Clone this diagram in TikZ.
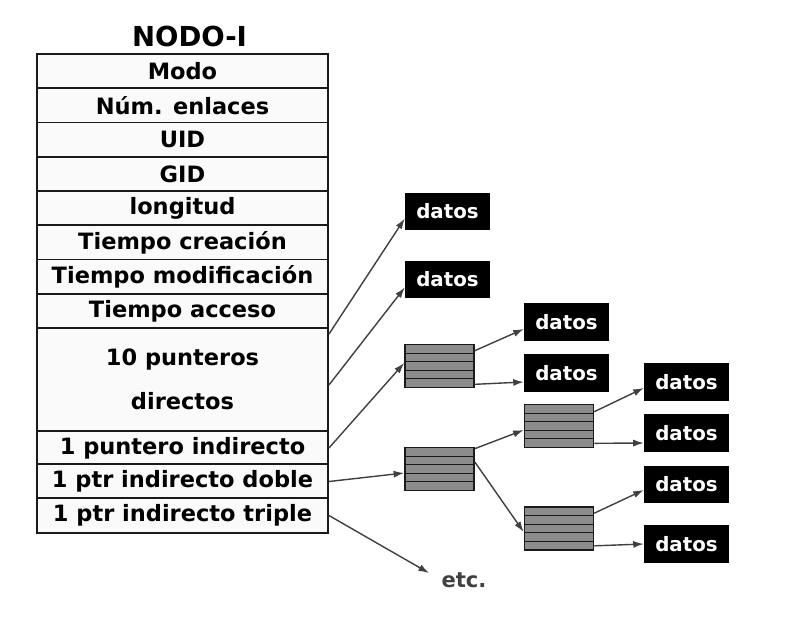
\documentclass[tikz,border=0pt]{standalone}
\usepackage{fontspec}
\setmainfont{DejaVu Sans}
\usetikzlibrary{calc,arrows.meta}
\definecolor{borde}{HTML}{1A1A1A}
\definecolor{flecha}{HTML}{404040}
\definecolor{relleno}{HTML}{8C8C8C}
\tikzstyle{campo}=[draw=borde,line width=1.6pt,fill=gray!4,minimum width=8.73cm,minimum height=1.0275cm,inner sep=0pt,font=\fontsize{19.2}{23}\selectfont\bfseries]
\tikzstyle{datos}=[fill=black,text=white,minimum width=2.55cm,minimum height=1.125cm,inner sep=0pt,font=\fontsize{16.9}{20}\selectfont\bfseries]
\tikzstyle{bloque}=[draw=borde,line width=1.4pt,fill=relleno,minimum width=2.07cm,minimum height=1.29cm,inner sep=0pt,path picture={\foreach \k in {1,...,4} \draw[borde,line width=1pt] ($(path picture bounding box.north west)!\k/5!(path picture bounding box.south west)$) -- ($(path picture bounding box.north east)!\k/5!(path picture bounding box.south east)$);}]
\tikzstyle{puntero}=[->,>={Latex[length=9pt,width=6pt]},draw=flecha,line width=1.2pt]

\begin{document}
\begin{tikzpicture}[x=0.03cm,y=-0.03cm]
                  \useasboundingbox (0,0) rectangle (804,636);

                  \node (titulo) at (189.5,36) [font=\fontsize{23.5}{28}\selectfont\bfseries] {NODO-I};

                  \node (modo) at (182.5,71.1) [campo] {Modo};
                  \node (enlaces) at (182.5,105.4) [campo] {Núm. enlaces};
                  \node (uid) at (182.5,139.6) [campo] {UID};
                  \node (gid) at (182.5,173.9) [campo] {GID};
                  \node (longitud) at (182.5,208.1) [campo] {longitud};
                  \node (creacion) at (182.5,242.4) [campo] {Tiempo creación};
                  \node (modif) at (182.5,276.6) [campo] {Tiempo modificación};
                  \node (acceso) at (182.5,310.9) [campo] {Tiempo acceso};
                  \node (dir) at (182.5,379.5) [campo,minimum height=3.09cm,align=center] {10 punteros\\[15pt]directos};
                  \node (ind) at (182.5,448) [campo] {1 puntero indirecto};
                  \node (inddoble) at (182.5,481.5) [campo] {1 ptr indirecto doble};
                  \node (indtriple) at (182.5,515.5) [campo] {1 ptr indirecto triple};

                  \node (d1) at (447.5,211.5) [datos] {datos};
                  \node (d2) at (447.5,279.5) [datos] {datos};
                  \node (d3) at (566.5,322) [datos] {datos};
                  \node (d4) at (566.5,373) [datos] {datos};
                  \node (d5) at (686.5,382) [datos] {datos};
                  \node (d6) at (686.5,433) [datos] {datos};
                  \node (d7) at (686.5,484.5) [datos] {datos};
                  \node (d8) at (686.5,544) [datos] {datos};

                  \node (indice1) at (439.5,366) [bloque] {};
                  \node (indice2) at (439.5,469) [bloque] {};
                  \node (indice3) at (559,426) [bloque] {};
                  \node (indice4) at (559,528.5) [bloque] {};

                  \node (etc) at (464,580) [inner sep=2pt,text=flecha,font=\fontsize{18}{21}\selectfont\bfseries] {etc.};

                  % punteros del nodo-i
                  \draw [puntero] ($(dir.north east)+(0,7)$) -- ($(d1.south west)+(0,-12)$);
                  \draw [puntero] ($(dir.east)+(0,5.5)$) -- ($(d2.south west)+(0,-11)$);
                  \draw [puntero] (ind.east) -- ($(indice1.west)+(0,-3)$);
                  \draw [puntero] (inddoble.east) -- ($(indice2.west)+(0,4)$);
                  \draw [puntero] (indtriple.east) -- ($(etc.west)+(-10,-7)$);

                  % bloques de indices
                  \draw [puntero] ($(indice1.north east)+(0,7)$) -- ($(d3.west)+(0,7)$);
                  \draw [puntero] ($(indice1.south east)+(0,-4)$) -- ($(d4.south west)+(0,-10)$);
                  \draw [puntero] ($(indice2.north east)+(0,2)$) -- ($(indice3.west)+(0,4)$);
                  \draw [puntero] ($(indice2.east)+(0,-7)$) -- ($(indice4.west)+(0,3.5)$);
                  \draw [puntero] ($(indice3.north east)+(0,8)$) -- ($(d5.west)+(0,6)$);
                  \draw [puntero] ($(indice3.south east)+(0,-5)$) -- ($(d6.west)+(0,10)$);
                  \draw [puntero] ($(indice4.north east)+(0,7)$) -- ($(d7.west)+(0,5.5)$);
                  \draw [puntero] ($(indice4.south east)+(0,-5)$) -- (d8.west);
              \end{tikzpicture}
\end{document}
